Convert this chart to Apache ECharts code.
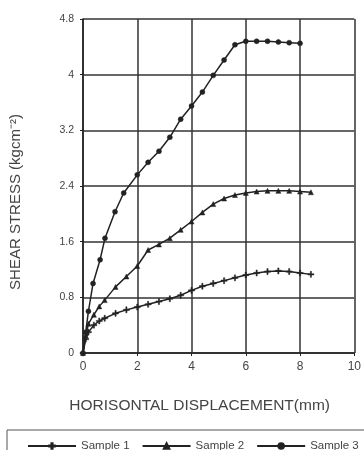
<!DOCTYPE html>
<html><head><meta charset="utf-8">
<script src="https://cdn.jsdelivr.net/npm/echarts@6/dist/echarts.min.js"></script>
<style>html,body{margin:0;padding:0;background:#fff}#c{width:364px;height:450px}</style>
</head><body><div id="c"></div>
<script>
const seriesNames = ['Sample 1', 'Sample 2', 'Sample 3'];
const xTicks = [0, 2, 4, 6, 8, 10];
const yTicks = [0, 0.8, 1.6, 2.4, 3.2, 4, 4.8];
const sample1X = [0, 0.1, 0.2, 0.4, 0.6, 0.8, 1.2, 1.6, 2.0, 2.4, 2.8, 3.2, 3.6, 4.0, 4.4, 4.8, 5.2, 5.6, 6.0, 6.4, 6.8, 7.2, 7.6, 8.0, 8.4];
const sample1Y = [0, 0.2, 0.3, 0.4, 0.46, 0.5, 0.57, 0.62, 0.66, 0.7, 0.74, 0.78, 0.83, 0.9, 0.96, 1.0, 1.04, 1.08, 1.12, 1.15, 1.17, 1.18, 1.17, 1.15, 1.13];
const sample2X = [0, 0.1, 0.2, 0.4, 0.6, 0.8, 1.2, 1.6, 2.0, 2.4, 2.8, 3.2, 3.6, 4.0, 4.4, 4.8, 5.2, 5.6, 6.0, 6.4, 6.8, 7.2, 7.6, 8.0, 8.4];
const sample2Y = [0, 0.25, 0.42, 0.55, 0.67, 0.76, 0.95, 1.1, 1.25, 1.48, 1.56, 1.65, 1.77, 1.89, 2.02, 2.14, 2.22, 2.27, 2.3, 2.32, 2.33, 2.33, 2.33, 2.32, 2.31];
const sample3X = [0, 0.1, 0.2, 0.37, 0.63, 0.81, 1.18, 1.5, 2.0, 2.4, 2.8, 3.2, 3.6, 4.0, 4.4, 4.8, 5.2, 5.6, 6.0, 6.4, 6.8, 7.2, 7.6, 8.0];
const sample3Y = [0, 0.3, 0.6, 1.0, 1.34, 1.65, 2.03, 2.3, 2.56, 2.74, 2.9, 3.1, 3.36, 3.55, 3.75, 3.99, 4.21, 4.43, 4.48, 4.48, 4.48, 4.47, 4.46, 4.45];

const pair = (xs, ys) => xs.map((x, i) => [x, ys[i]]);
const plus = 'path://M4,0H6V4H10V6H6V10H4V6H0V4H4Z';
const symbols = [plus, 'triangle', 'circle'];
const sizes = [6, 5, 5];
const datas = [pair(sample1X, sample1Y), pair(sample2X, sample2Y), pair(sample3X, sample3Y)];

const chart = echarts.init(document.getElementById('c'));
const font = 'Liberation Sans, Arial, sans-serif';
chart.setOption({
  animation: false,
  backgroundColor: '#fff',
  grid: { left: 83, right: 9, top: 19, bottom: 97 },
  xAxis: {
    type: 'value', min: xTicks[0], max: xTicks[xTicks.length - 1], interval: 2,
    name: 'HORISONTAL DISPLACEMENT(mm)', nameLocation: 'middle', nameGap: 45,
    nameTextStyle: { fontFamily: font, fontSize: 15.5, color: '#444', padding: [0, 38, 0, 0] },
    axisLine: { show: true, lineStyle: { color: '#222', width: 1.5 } },
    axisTick: { show: true, length: 3, lineStyle: { color: '#222' } },
    axisLabel: { fontFamily: font, fontSize: 12, color: '#444', margin: 8 },
    splitLine: { show: true, lineStyle: { color: '#333', width: 1.5 } }
  },
  yAxis: {
    type: 'value', min: yTicks[0], max: yTicks[yTicks.length - 1], interval: 0.8,
    name: 'SHEAR STRESS (kgcm⁻²)', nameLocation: 'middle', nameGap: 60,
    nameTextStyle: { fontFamily: font, fontSize: 15, color: '#444', padding: [0, 32, 0, 0] },
    axisLine: { show: true, lineStyle: { color: '#222', width: 1.5 } },
    axisTick: { show: true, length: 3, lineStyle: { color: '#222' } },
    axisLabel: { fontFamily: font, fontSize: 10.5, color: '#444', margin: 9,
      formatter: v => String(Math.round(v * 10) / 10) },
    splitLine: { show: true, lineStyle: { color: '#333', width: 1.5 } }
  },
  legend: {
    left: 22, top: 435, width: 420, itemWidth: 48, itemHeight: 7, itemGap: 12,
    textStyle: { fontFamily: font, fontSize: 11.5, color: '#444' },
    data: seriesNames
  },
  graphic: [{ type: 'rect', shape: { x: 7, y: 430, width: 370, height: 30 },
    style: { fill: 'none', stroke: '#555', lineWidth: 1 } }],
  series: seriesNames.map((n, i) => ({
    name: n, type: 'line', data: datas[i], symbol: symbols[i], symbolSize: sizes[i],
    showSymbol: true, smooth: false,
    lineStyle: { color: '#222', width: 1.5 },
    itemStyle: { color: '#222', borderColor: '#222', borderWidth: 0.5 }
  }))
});
</script></body></html>
